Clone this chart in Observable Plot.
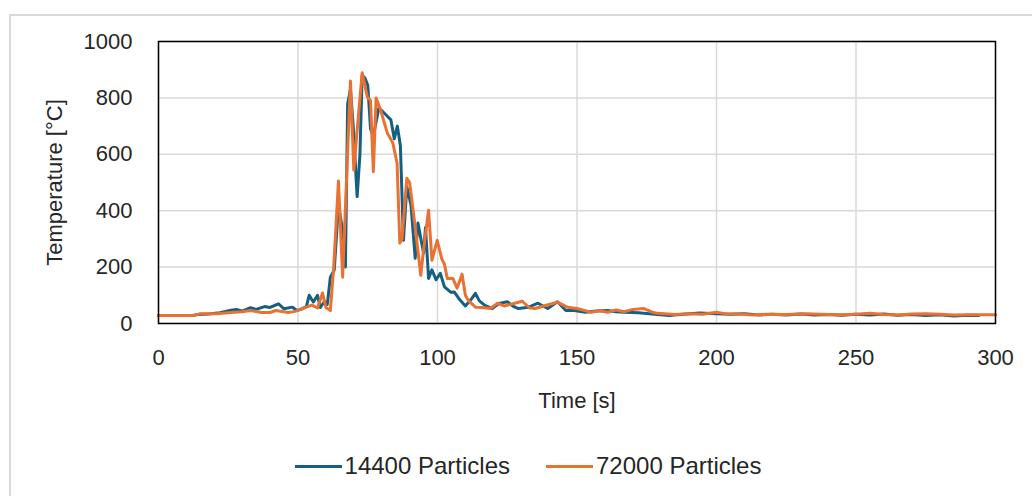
<!DOCTYPE html>
<html><head><meta charset="utf-8">
<script src="https://cdn.jsdelivr.net/npm/d3@7"></script>
<script src="https://cdn.jsdelivr.net/npm/@observablehq/plot@0.6"></script>
<style>
body{margin:0;width:1032px;height:496px;overflow:hidden;background:#fff;font-family:"Liberation Sans",Arial,sans-serif;position:relative}
#frame{position:absolute;left:9px;top:14px;width:1100px;height:600px;border:2px solid #d9d9d9;box-sizing:border-box}
#chart{position:absolute;left:0;top:0}
#legend{position:absolute;top:452px;left:0;width:1056px;display:flex;justify-content:center;align-items:center;font-size:24px;color:#262626;font-family:"Liberation Sans",Arial,sans-serif}
.item{display:flex;align-items:center;margin:0 18px}
.sw{width:47px;height:3px;margin-right:3px}
</style></head>
<body>
<div id="frame"></div>
<div id="chart"></div>
<div id="legend"></div>
<script>
const xTicks = [0, 50, 100, 150, 200, 250, 300];
const yTicks = [0, 200, 400, 600, 800, 1000];
const seriesNames = ["14400 Particles", "72000 Particles"];
const seriesColors = ["#156082", "#E97132"];

const blueTime = [0,12,14,18,22,26,28,30,33,35,38,40,43,45,48,49.5,51,53,54,55.5,57,58,59.5,60.5,61.6,63,64.5,66,67,67.8,68.8,69.8,71.2,72.2,73,74,75,76,77,79,81.5,83.3,84.5,85.6,86.7,87.8,89,90.5,92,93,95,95.7,96.8,98,99.5,101,102.5,104.7,106,108,110,112,113.6,115,117,119.6,122,125,127,129,132.7,136,139.5,143,146,149,153,157,161,164,167,172,177,183,188,194,200,205,210,215,220,225,230,235,240,245,250,255,260,265,270,275,280,285,290,294];
const blueTemp = [28,28,32,34,38,47,50,44,56,50,60,57,70,52,58,46,50,60,100,76,100,57,78,68,164,190,420,330,200,780,830,700,450,600,880,870,845,690,665,765,740,722,655,700,630,295,485,420,231,356,250,340,160,190,155,178,130,111,112,84,62,85,107,80,64,53,71,77,62,53,58,72,53,77,46,46,40,44,46,42,40,38,34,28,33,37,35,33,35,30,33,30,34,30,32,29,33,30,34,29,32,28,31,27,29,28];

const orangeTime = [0,12.5,15,21,26,30,33,37,40,42,46.5,49,52.7,55,57,58.8,60,61.6,62.8,64.5,66,68.8,70,71.5,73,74.8,76,77,78,79.6,82,84,85.5,86.5,87.3,89,90,92,94,95,96.8,98,99.9,101.5,102.5,103.5,105.5,107,108.8,110,111,113.6,116,119,121.5,124,127,130.4,133,135,138,141,143,146.5,150,153,155,158,161,164,167,170,174,177,179,185,190,195,200,203,208,213,218,225,232,240,245,250,255,260,265,270,275,280,285,290,295,300];
const orangeTemp = [28,28,35,35,39,42,46,39,39,46,39,43,57,65,55,108,57,46,200,505,164,860,544,720,889,805,790,538,800,757,676,640,569,285,300,515,500,342,171,260,402,224,295,230,210,160,160,125,175,100,82,58,57,53,72,62,70,79,55,53,62,70,76,58,53,45,40,45,40,48,42,50,53,40,36,32,35,33,40,35,34,30,33,32,35,32,31,33,36,32,30,34,35,33,30,31,31,31];

const chart = Plot.plot({
  width: 1032,
  height: 430,
  marginLeft: 158,
  marginRight: 37,
  marginTop: 41,
  marginBottom: 107,
  style: {fontFamily: "Liberation Sans, Arial, sans-serif", fontSize: "22px", color: "#262626", background: "transparent", overflow: "visible"},
  x: {domain: [0, 300]},
  y: {domain: [0, 1000]},
  marks: [
    Plot.gridX(xTicks, {stroke: "#d9d9d9", strokeOpacity: 1, strokeWidth: 1.5}),
    Plot.gridY(yTicks, {stroke: "#d9d9d9", strokeOpacity: 1, strokeWidth: 1.5}),
    Plot.axisX(xTicks, {tickSize: 0, tickPadding: 26, tickFormat: d => String(d), label: "Time [s]", labelAnchor: "center", labelArrow: "none", labelOffset: 84}),
    Plot.axisY(yTicks, {tickSize: 0, tickPadding: 26, tickFormat: d => String(d), label: "Temperature [°C]", labelAnchor: "center", labelArrow: "none", labelOffset: 112}),
    Plot.line(blueTemp, {x: blueTime, y: blueTemp, stroke: seriesColors[0], strokeWidth: 3, strokeLinejoin: "round"}),
    Plot.line(orangeTemp, {x: orangeTime, y: orangeTemp, stroke: seriesColors[1], strokeWidth: 3, strokeLinejoin: "round"}),
    Plot.frame({stroke: "black", strokeWidth: 1.5})
  ]
});
document.getElementById("chart").appendChild(chart);

const legend = document.getElementById("legend");
seriesNames.forEach((name, i) => {
  const it = document.createElement("div");
  it.className = "item";
  const sw = document.createElement("div");
  sw.className = "sw";
  sw.style.background = seriesColors[i];
  const tx = document.createElement("span");
  tx.textContent = name;
  it.appendChild(sw); it.appendChild(tx);
  legend.appendChild(it);
});
</script>
</body></html>
